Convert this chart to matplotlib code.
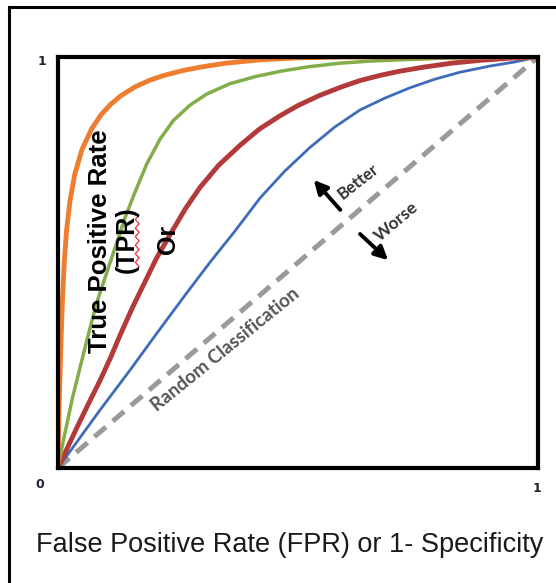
import numpy as np
import matplotlib
matplotlib.use("Agg")
import matplotlib.pyplot as plt
from matplotlib.lines import Line2D

# ROC curves (FPR, TPR)
orange_fpr = [0, 0.001, 0.003, 0.006, 0.009, 0.013, 0.018, 0.025, 0.035, 0.05, 0.07, 0.09,
              0.11, 0.13, 0.16, 0.19, 0.22, 0.26, 0.30, 0.35, 0.42, 0.50, 0.60, 1.0]
orange_tpr = [0, 0.08, 0.18, 0.30, 0.40, 0.50, 0.58, 0.65, 0.715, 0.775, 0.825, 0.86,
              0.885, 0.905, 0.927, 0.943, 0.955, 0.967, 0.976, 0.985, 0.993, 0.998, 1.0, 1.0]

green_fpr = [0, 0.01, 0.02, 0.03, 0.045, 0.06, 0.08, 0.10, 0.12, 0.14, 0.16, 0.185, 0.2125,
             0.24, 0.275, 0.31, 0.358, 0.41, 0.4625, 0.52, 0.5875, 0.65, 0.71, 0.80, 0.90, 1.0]
green_tpr = [0, 0.06, 0.115, 0.17, 0.24, 0.31, 0.40, 0.47, 0.54, 0.61, 0.67, 0.74, 0.80,
             0.845, 0.883, 0.91, 0.935, 0.952, 0.965, 0.976, 0.985, 0.99, 0.993, 0.997, 0.999, 1.0]

red_fpr = [0, 0.02, 0.04, 0.065, 0.088, 0.11, 0.13, 0.155, 0.18, 0.205, 0.233, 0.265, 0.296,
           0.335, 0.38, 0.42, 0.4625, 0.50, 0.546, 0.59, 0.63, 0.67, 0.71, 0.76, 0.82, 0.88,
           0.94, 1.0]
red_tpr = [0, 0.05, 0.10, 0.16, 0.214, 0.27, 0.325, 0.39, 0.45, 0.51, 0.567, 0.63, 0.683,
           0.737, 0.786, 0.825, 0.857, 0.882, 0.907, 0.927, 0.943, 0.955, 0.965, 0.975, 0.985,
           0.992, 0.997, 1.0]

blue_fpr = [0, 0.0875, 0.15, 0.206, 0.265, 0.317, 0.369, 0.421, 0.473, 0.525, 0.577, 0.629,
            0.681, 0.733, 0.785, 0.8375, 0.90, 0.952, 1.0]
blue_tpr = [0, 0.141, 0.238, 0.328, 0.421, 0.501, 0.577, 0.657, 0.723, 0.78, 0.83, 0.871,
            0.90, 0.925, 0.946, 0.963, 0.978, 0.988, 1.0]

random_fpr = [0, 1]
random_tpr = [0, 1]

fig = plt.figure(figsize=(5.56, 5.83), dpi=100)
ax = fig.add_axes([58 / 556, 1 - 468 / 583, 480 / 556, 411 / 583])

ax.plot(random_fpr, random_tpr, color="#9a9a9a", lw=3.6, ls=(0, (3, 1.8)))
ax.plot(blue_fpr, blue_tpr, color="#3f6cb8", lw=2.0, solid_joinstyle="round")
ax.plot(red_fpr, red_tpr, color="#b23a3a", lw=3.5, solid_joinstyle="round")
ax.plot(green_fpr, green_tpr, color="#82ad4a", lw=2.5, solid_joinstyle="round")
ax.plot(orange_fpr, orange_tpr, color="#ee7d30", lw=3.5, solid_joinstyle="round")

ax.set_xlim(0, 1)
ax.set_ylim(0, 1)
ax.set_xticks([])
ax.set_yticks([])
for sp in ax.spines.values():
    sp.set_linewidth(3.0)
    sp.set_color("black")

# labels inside the plot
ax.text(0.088, 0.552, "True Positive Rate", rotation=90, ha="center", va="center",
        fontsize=18.5, fontweight="bold", family="Liberation Sans")
ax.text(0.144, 0.555, "(TPR)", rotation=90, ha="center", va="center",
        fontsize=18, fontweight="bold", family="Liberation Sans")
ax.text(0.23, 0.555, "Or", rotation=90, ha="center", va="center",
        fontsize=18, fontweight="bold", family="Liberation Sans")

# spell-check squiggle next to (TPR)
sq_y = np.linspace(0.49, 0.615, 13)
sq_x = 0.165 + 0.004 * np.tile([1, -1], 7)[:13]
ax.plot(sq_x, sq_y, color="#e8323a", lw=0.9)

ax.text(0.348, 0.287, "Random Classification", rotation=39, ha="center", va="center",
        fontsize=13.5, fontweight="bold", color="#555555", family="Lato")

ax.annotate("", xy=(0.529, 0.706), xytext=(0.592, 0.623),
            arrowprops=dict(arrowstyle="-|>", lw=2.8, color="black", mutation_scale=20))
ax.text(0.625, 0.696, "Better", rotation=38, ha="center", va="center",
        fontsize=12, fontweight="bold", color="#333333", family="Lato")

ax.annotate("", xy=(0.692, 0.501), xytext=(0.625, 0.574),
            arrowprops=dict(arrowstyle="-|>", lw=2.8, color="black", mutation_scale=20))
ax.text(0.704, 0.599, "Worse", rotation=40, ha="center", va="center",
        fontsize=12.5, fontweight="bold", color="#333333", family="Lato")

# corner tick labels
tick_style = dict(fontsize=9, fontweight="bold", color="#222233", family="DejaVu Sans",
                  ha="center", va="center", transform=ax.transAxes)
ax.text(-0.033, 0.988, "1", **tick_style)
ax.text(-0.0375, -0.039, "0", **tick_style)
ax.text(0.998, -0.049, "1", **tick_style)

fig.text(290 / 556, 1 - 545 / 583, "False Positive Rate (FPR) or 1- Specificity",
         ha="center", va="center", fontsize=19.5, family="Liberation Sans", color="#1a1a1a")

# outer frame (left and top edges only)
fig.add_artist(Line2D([9 / 556, 9 / 556], [0, 1 - 7 / 583], transform=fig.transFigure,
                      lw=2.2, color="black"))
fig.add_artist(Line2D([9 / 556, 1], [1 - 7 / 583, 1 - 7 / 583], transform=fig.transFigure,
                      lw=2.2, color="black"))

fig.savefig("out.png", dpi=100)
